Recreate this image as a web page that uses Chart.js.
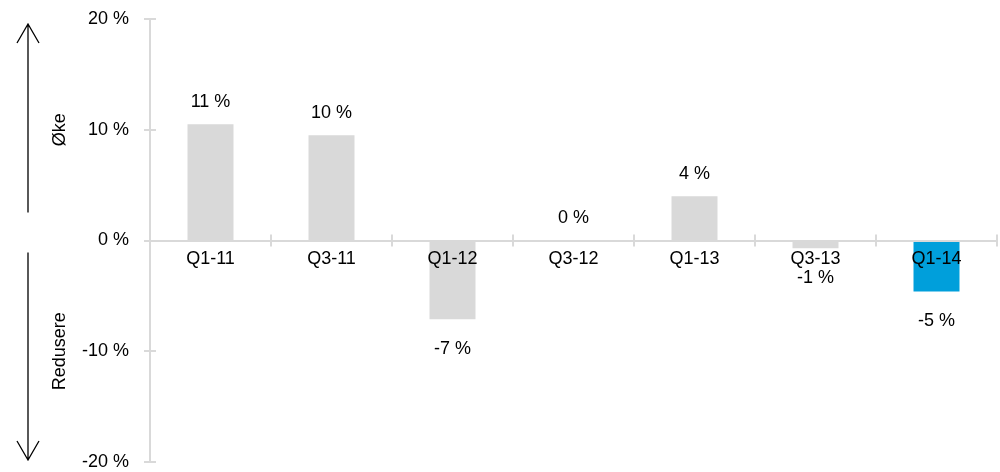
<!DOCTYPE html>
<html>
<head>
<meta charset="utf-8">
<script src="https://cdn.jsdelivr.net/npm/chart.js@4/dist/chart.umd.min.js"></script>
<style>
  html, body { margin: 0; padding: 0; background: #fff; }
  #wrap { width: 1000px; height: 472px; }
</style>
</head>
<body>
<div id="wrap"><canvas id="chart" width="1000" height="472"></canvas></div>
<script>
// quarterly change, percent
const quarters = ['Q1-11', 'Q3-11', 'Q1-12', 'Q3-12', 'Q1-13', 'Q3-13', 'Q1-14'];
const change = [10.5, 9.5, -7.1, 0, 4.0, -0.7, -4.6];
const barColors = ['#d9d9d9', '#d9d9d9', '#d9d9d9', '#d9d9d9', '#d9d9d9', '#d9d9d9', '#009fdb'];
const yTicks = [-20, -10, 0, 10, 20];

const FONT = '"Liberation Sans", Arial, sans-serif';
const FONT_SIZE = 18;
const AXIS_GREY = '#d9d9d9';

// value labels above/below each bar
const valueLabels = {
  id: 'valueLabels',
  afterDatasetsDraw(chart){
    const ctx = chart.ctx;
    const meta = chart.getDatasetMeta(0);
    ctx.save();
    ctx.font = FONT_SIZE + 'px ' + FONT;
    ctx.fillStyle = '#000';
    ctx.textAlign = 'center';
    ctx.textBaseline = 'middle';
    meta.data.forEach((bar, i)=>{
      const v = change[i];
      const y = v >= 0 ? bar.y - 22 : bar.y + 30;
      ctx.fillText(Math.round(v) + ' %', bar.x, y);
    });
    ctx.restore();
  }
};

// small cross ticks on both axes
const axisTicks = {
  id: 'axisTicks',
  afterDraw(chart){
    const ctx = chart.ctx;
    const xs = chart.scales.x, ys = chart.scales.y;
    const y0 = ys.getPixelForValue(0);
    const step = xs.getPixelForValue(1) - xs.getPixelForValue(0);
    ctx.save();
    ctx.strokeStyle = AXIS_GREY;
    ctx.lineWidth = 2;
    ctx.beginPath();
    for(let i = 1; i <= quarters.length; i++){
      const x = Math.round(xs.getPixelForValue(i - 1) + step / 2);
      ctx.moveTo(x, y0 - 6); ctx.lineTo(x, y0 + 6);
    }
    const left = chart.chartArea.left;
    yTicks.forEach(t=>{
      const y = Math.round(ys.getPixelForValue(t));
      ctx.moveTo(left - 6, y); ctx.lineTo(left + 6, y);
    });
    ctx.stroke();
    ctx.restore();
  }
};

// up/down arrows with rotated captions left of the axis
const sideArrows = {
  id: 'sideArrows',
  afterDraw(chart){
    const ctx = chart.ctx;
    const ys = chart.scales.y;
    const ax = 28;
    const top = ys.getPixelForValue(20) + 5;
    const bottom = ys.getPixelForValue(-20) - 2;
    const mid = ys.getPixelForValue(0);
    ctx.save();
    ctx.strokeStyle = '#000';
    ctx.lineWidth = 1.3;
    ctx.beginPath();
    ctx.moveTo(ax, mid - 28); ctx.lineTo(ax, top);
    ctx.moveTo(ax - 11, top + 19); ctx.lineTo(ax, top); ctx.lineTo(ax + 11, top + 19);
    ctx.moveTo(ax, mid + 12); ctx.lineTo(ax, bottom);
    ctx.moveTo(ax - 11, bottom - 19); ctx.lineTo(ax, bottom); ctx.lineTo(ax + 11, bottom - 19);
    ctx.stroke();

    ctx.font = FONT_SIZE + 'px ' + FONT;
    ctx.fillStyle = '#000';
    ctx.textAlign = 'center';
    ctx.textBaseline = 'middle';
    [['Øke', 10], ['Redusere', -10]].forEach(([txt, v])=>{
      ctx.save();
      ctx.translate(60, ys.getPixelForValue(v));
      ctx.rotate(-Math.PI / 2);
      ctx.fillText(txt, 0, 0);
      ctx.restore();
    });
    ctx.restore();
  }
};

new Chart(document.getElementById('chart'), {
  type: 'bar',
  data: {
    labels: quarters,
    datasets: [{ data: change, backgroundColor: barColors, borderWidth: 0 }]
  },
  options: {
    responsive: false,
    animation: false,
    layout: { padding: { top: 19, right: 3, bottom: 10, left: 0 } },
    plugins: { legend: { display: false }, tooltip: { enabled: false } },
    datasets: { bar: { categoryPercentage: 1, barPercentage: 0.38 } },
    scales: {
      x: {
        position: { y: 0 },
        afterFit(scale){ scale.height = 0; },
        grid: { display: false },
        border: { color: AXIS_GREY, width: 2, z: 1 },
        ticks: { z: 1, color: '#000', font: { family: FONT, size: FONT_SIZE }, padding: 0, maxRotation: 0, autoSkip: false }
      },
      y: {
        min: -20, max: 20,
        afterFit(scale){
          scale.width = 150;
          scale.paddingTop = 0;
          scale.paddingBottom = 0;
        },
        afterBuildTicks(scale){ scale.ticks = yTicks.map(v=>({ value: v })); },
        grid: { display: false },
        border: { color: AXIS_GREY, width: 2 },
        ticks: {
          color: '#000', font: { family: FONT, size: FONT_SIZE }, padding: 13,
          callback: v => v + ' %'
        }
      }
    }
  },
  plugins: [valueLabels, axisTicks, sideArrows]
});
</script>
</body>
</html>
